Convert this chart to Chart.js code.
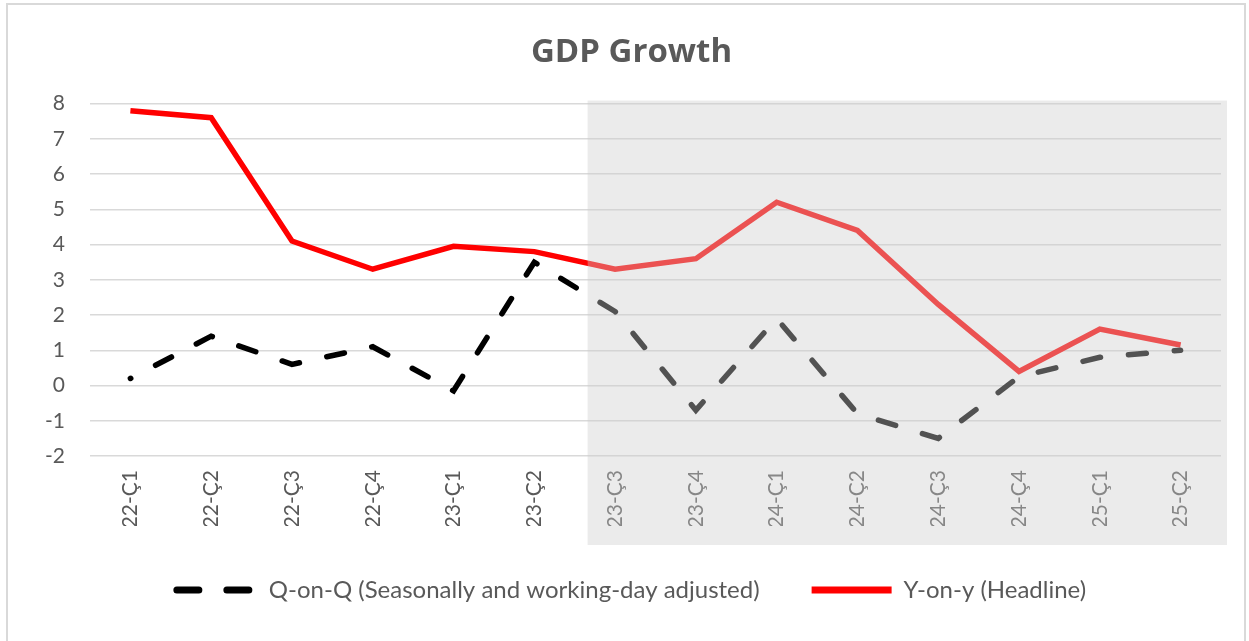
<!DOCTYPE html>
<html>
<head>
<meta charset="utf-8">
<script src="https://cdn.jsdelivr.net/npm/chart.js@4.4.0/dist/chart.umd.min.js"></script>
<style>
  html, body { margin: 0; padding: 0; background: #fff; }
  #frame { position: absolute; left: 6px; top: 3px; width: 1240px; height: 640px; border: 2px solid #d9d9d9; box-sizing: border-box; }
  #wrap { position: absolute; left: 0; top: 0; width: 1249px; height: 641px; }
</style>
</head>
<body>
<div id="frame"></div>
<div id="wrap"><canvas id="c"></canvas></div>
<script>
const categories = ["22-Ç1","22-Ç2","22-Ç3","22-Ç4","23-Ç1","23-Ç2","23-Ç3","23-Ç4","24-Ç1","24-Ç2","24-Ç3","24-Ç4","25-Ç1","25-Ç2"];
const qoqValues = [0.2, 1.4, 0.6, 1.1, -0.15, 3.5, 2.1, -0.7, 1.9, -0.8, -1.5, 0.25, 0.8, 1.0];
const yoyValues = [7.8, 7.6, 4.1, 3.3, 3.95, 3.8, 3.3, 3.6, 5.2, 4.4, 2.3, 0.4, 1.6, 1.15];
const qoqLabel = "Q-on-Q (Seasonally and working-day adjusted)";
const yoyLabel = "Y-on-y (Headline)";
const titleText = "GDP Growth";
const shadeFrom = 5.66; // category position where the forecast shading starts

const FONT = "Lato, 'Open Sans', sans-serif";
const TXT = "#595959";

const shadePlugin = {
  id: 'shade',
  afterDraw(chart) {
    const {ctx, chartArea, scales} = chart;
    const left = scales.x.getPixelForValue(shadeFrom);
    ctx.save();
    ctx.fillStyle = 'rgba(205,205,205,0.4)';
    ctx.fillRect(left, chartArea.top - 3, chartArea.right + 6 - left, chartArea.bottom + 89 - (chartArea.top - 3));
    ctx.restore();
  }
};

new Chart(document.getElementById('c'), {
  type: 'line',
  data: {
    labels: categories,
    datasets: [
      { label: qoqLabel, data: qoqValues, borderColor: '#000', backgroundColor: '#000', borderWidth: 5.5,
        borderDash: [18, 28], borderDashOffset: 17.6, borderCapStyle: 'round', tension: 0, pointRadius: 0, pointHoverRadius: 0 },
      { label: yoyLabel, data: yoyValues, borderColor: '#ff0000', backgroundColor: '#ff0000', borderWidth: 5.5,
        borderCapStyle: 'butt', tension: 0, pointRadius: 0, pointHoverRadius: 0 }
    ]
  },
  options: {
    responsive: true,
    maintainAspectRatio: false,
    animation: false,
    layout: { padding: { left: 42, right: 28, top: 0, bottom: 29 } },
    plugins: {
      title: { display: true, text: titleText, color: TXT, font: { family: "'Open Sans', Lato, sans-serif", size: 33, weight: 'bold' }, padding: { top: 33, bottom: 31 } },
      legend: {
        position: 'bottom',
        labels: {
          color: TXT, font: { family: FONT, size: 24 }, padding: 52,
          usePointStyle: true, pointStyleWidth: 80, boxHeight: 8,
          generateLabels(chart) {
            const items = Chart.defaults.plugins.legend.labels.generateLabels(chart);
            items.forEach(it => { it.pointStyle = 'line'; it.lineWidth = 7; });
            items[0].lineDash = [22, 28];
            items[0].lineCap = 'round';
            return items;
          }
        }
      },
      tooltip: { enabled: false }
    },
    scales: {
      x: {
        offset: true,
        grid: { display: false, drawTicks: false, offset: true },
        border: { display: false },
        ticks: { color: TXT, font: { family: FONT, size: 21 }, maxRotation: 90, minRotation: 90, padding: 14 },
        afterFit(s) { s.height = 70; }
      },
      y: {
        min: -2, max: 8,
        grid: { color: '#d9d9d9', lineWidth: 1.5, drawTicks: false },
        border: { display: false },
        ticks: { stepSize: 1, color: TXT, font: { family: FONT, size: 21 }, padding: 25 },
        afterFit(s) { s.width = 48; }
      }
    }
  },
  plugins: [shadePlugin]
});
</script>
</body>
</html>
